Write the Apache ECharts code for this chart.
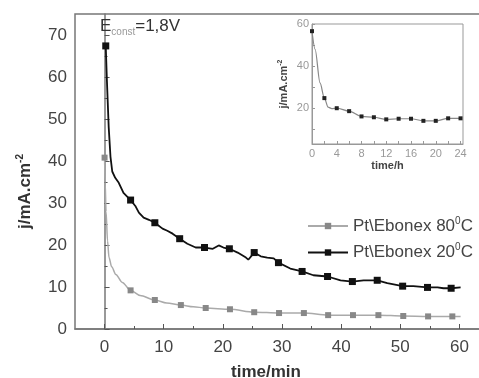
<!DOCTYPE html>
<html>
<head>
<meta charset="utf-8">
<script src="https://cdn.jsdelivr.net/npm/echarts@6/dist/echarts.min.js"></script>
<style>
  html, body { margin: 0; padding: 0; background: #fff; }
  #chart { width: 479px; height: 378px; }
</style>
</head>
<body>
<div id="chart"></div>
<script>
// main plot: current density vs time (min)
const xTicks = [0, 10, 20, 30, 40, 50, 60];
const xMinor = [5, 15, 25, 35, 45, 55];
const yTicks = [0, 10, 20, 30, 40, 50, 60, 70];
const yMinor = [5, 15, 25, 35, 45, 55, 65];

const seriesNames = ['Pt\\Ebonex 80', 'Pt\\Ebonex 20'];

// 80 C (gray) – markers and the line trace between them
const hotMarkers = [[0, 40.8], [4.4, 9.2], [8.5, 6.9], [12.9, 5.7], [17.1, 5.0], [21.2, 4.7],
  [25.3, 4.0], [29.5, 3.8], [33.7, 3.8], [37.8, 3.3], [42, 3.3], [46.3, 3.3],
  [50.5, 3.1], [54.7, 3.0], [58.8, 3.0]];
const hotTrace = [[0.1, 35], [0.25, 28], [0.5, 21], [0.75, 17], [1.2, 14.8], [1.9, 13],
  [3, 11.1], [6, 8], [10.5, 6.2], [15, 5.3], [60.2, 3.0]];

// 20 C (black)
const coldMarkers = [[0.2, 67.4], [4.4, 30.7], [8.5, 25.3], [12.7, 21.5], [16.9, 19.4],
  [21.1, 19.1], [25.3, 18.2], [29.4, 15.8], [33.4, 13.7], [37.7, 12.5], [41.9, 11.3],
  [46.1, 11.6], [50.4, 10.2], [54.6, 9.9], [58.6, 9.7]];
const coldTrace = [[0.4, 59], [0.7, 48], [1.0, 41], [1.3, 37.5], [1.8, 36], [2.4, 34.8],
  [3.2, 32.4], [5.2, 29.3], [5.8, 27.7], [6.6, 26.5], [7.5, 26.0], [9.8, 23.9],
  [10.6, 23.4], [11.5, 22.7], [14.0, 20.3], [15.4, 19.4], [18.3, 19.1], [19.3, 19.9],
  [20.1, 19.4], [22.5, 18.2], [23.9, 17.0], [24.3, 16.5], [26.4, 17.3], [27.5, 17.0],
  [28.6, 16.8], [31.4, 14.4], [35.3, 12.8], [39.9, 11.6], [43.8, 11.6], [47.8, 10.9],
  [52.2, 10.2], [56.3, 9.9], [57.3, 9.7], [60.2, 9.9]];

// inset: current density vs time (h)
const insetXLabels = [0, 4, 8, 12, 16, 20, 24];
const insetXTicks = [0, 2, 4, 6, 8, 10, 12, 14, 16, 18, 20, 22, 24];
const insetYLabels = [20, 40, 60];
const insetYTicks = [10, 20, 30, 40, 50, 60];
const insetMarkers = [[0, 56.6], [2, 24.8], [4, 20], [6, 18.6], [8, 16.1], [10, 15.7],
  [12, 14.7], [14, 15], [16, 15], [18, 14], [20, 14], [22, 15.2], [24, 15.2]];
const insetTrace = [[0.5, 48], [1.3, 32], [2.6, 20.5], [3.2, 19.8]];

function build(markers, trace) {
  const pts = markers.map(p => ({ value: p }))
    .concat(trace.map(p => ({ value: p, symbol: 'none' })));
  pts.sort((a, b) => a.value[0] - b.value[0]);
  return pts;
}

const chart = echarts.init(document.getElementById('chart'));
const axisGray = '#777';
const labelColor = '#444';
const font = 'Liberation Sans, Arial, sans-serif';

const option = {
  animation: false,
  backgroundColor: '#fff',
  textStyle: { fontFamily: font },
  grid: [
    { left: 75, right: -10, top: 14, bottom: 49, outerBoundsMode: 'none', containLabel: false,
      show: true, borderColor: axisGray, borderWidth: 1.5 },
    { left: 312, top: 24, width: 151, height: 120, outerBoundsMode: 'none', containLabel: false,
      show: true, borderColor: '#999', borderWidth: 1, backgroundColor: '#fff' }
  ],
  legend: {
    orient: 'vertical',
    left: 302,
    top: 211,
    itemWidth: 40,
    itemHeight: 8,
    itemGap: 8,
    data: seriesNames,
    textStyle: {
      color: labelColor,
      fontSize: 17,
      fontFamily: font,
      rich: {
        a: { fontSize: 17, color: labelColor, fontFamily: font },
        s: { fontSize: 10, color: labelColor, fontFamily: font, padding: [0, 0, 10, 0] }
      }
    },
    formatter: name => '{a|' + name + '}{s|0}{a|C}'
  },
  xAxis: [
    {
      gridIndex: 0, type: 'value', min: -5, max: 65,
      name: 'time/min', nameLocation: 'middle', nameGap: 35,
      nameTextStyle: { fontSize: 17, fontWeight: 'bold', color: '#333', padding: [0, 32, 0, 0] },
      axisLine: { lineStyle: { color: axisGray, width: 1.5 } },
      axisTick: { inside: true, length: 5, customValues: xTicks, lineStyle: { color: '#555' } },
      axisLabel: { customValues: xTicks, fontSize: 17, color: labelColor, margin: 10 },
      splitLine: { show: false }
    },
    {
      gridIndex: 0, type: 'value', min: -5, max: 65, position: 'bottom',
      axisLine: { show: false },
      axisTick: { inside: true, length: 3, customValues: xMinor, lineStyle: { color: '#555' } },
      axisLabel: { show: false },
      splitLine: { show: false }
    },
    {
      gridIndex: 1, type: 'value', min: 0, max: 24.4,
      name: 'time/h', nameLocation: 'middle', nameGap: 16,
      nameTextStyle: { fontSize: 11, fontWeight: 'bold', color: '#444' },
      axisLine: { lineStyle: { color: '#999' } },
      axisTick: { inside: true, length: 3, customValues: insetXTicks, lineStyle: { color: '#999' } },
      axisLabel: { customValues: insetXLabels, fontSize: 11, color: '#999', margin: 4 },
      splitLine: { show: false }
    }
  ],
  yAxis: [
    {
      gridIndex: 0, type: 'value', min: 0, max: 75,
      name: '{a|j/mA.cm}{s|-2}', nameLocation: 'middle', nameGap: 40,
      nameTextStyle: {
        padding: [0, 40, 0, 0],
        rich: {
          a: { fontSize: 17, fontWeight: 'bold', color: '#333', fontFamily: font },
          s: { fontSize: 10, fontWeight: 'bold', color: '#333', fontFamily: font, padding: [0, 0, 10, 0] }
        }
      },
      axisLine: { lineStyle: { color: axisGray, width: 1.5 } },
      axisTick: { inside: true, length: 5, customValues: yTicks, lineStyle: { color: '#555' } },
      axisLabel: { customValues: yTicks, fontSize: 17, color: labelColor, margin: 8 },
      splitLine: { show: false }
    },
    {
      gridIndex: 0, type: 'value', min: 0, max: 75, position: 'left',
      axisLine: { show: false },
      axisTick: { inside: true, length: 3, customValues: yMinor, lineStyle: { color: '#555' } },
      axisLabel: { show: false },
      splitLine: { show: false }
    },
    {
      gridIndex: 1, type: 'value', min: 3, max: 60,
      name: '{a|j/mA.cm}{s|-2}', nameLocation: 'middle', nameGap: 22,
      nameTextStyle: {
        rich: {
          a: { fontSize: 11, fontWeight: 'bold', color: '#444', fontFamily: font },
          s: { fontSize: 7, fontWeight: 'bold', color: '#444', fontFamily: font, padding: [0, 0, 6, 0] }
        }
      },
      axisLine: { lineStyle: { color: '#999' } },
      axisTick: { inside: true, length: 3, customValues: insetYTicks, lineStyle: { color: '#999' } },
      axisLabel: { customValues: insetYLabels, fontSize: 11, color: '#999', margin: 3 },
      splitLine: { show: false }
    }
  ],
  graphic: [
    {
      type: 'text', left: 100, top: 18, z: 10,
      style: {
        text: '{e|E}{s|const}{e|=1,8V}',
        rich: {
          e: { fontSize: 17, fill: '#333', fontFamily: font },
          s: { fontSize: 10, fill: '#999', fontFamily: font, padding: [12, 0, 0, 0] }
        }
      }
    }
  ],
  series: [
    {
      name: seriesNames[0], type: 'line', xAxisIndex: 0, yAxisIndex: 0,
      data: build(hotMarkers, hotTrace),
      smooth: 0.3, smoothMonotone: 'x',
      symbol: 'rect', symbolSize: 6,
      lineStyle: { color: '#aaa', width: 1.5 },
      itemStyle: { color: '#888' }
    },
    {
      name: seriesNames[1], type: 'line', xAxisIndex: 0, yAxisIndex: 0,
      data: build(coldMarkers, coldTrace),
      symbol: 'rect', symbolSize: 7,
      lineStyle: { color: '#111', width: 1.8 },
      itemStyle: { color: '#111' }
    },
    {
      name: 'inset', type: 'line', xAxisIndex: 2, yAxisIndex: 2,
      data: build(insetMarkers, insetTrace),
      smooth: 0.3, smoothMonotone: 'x',
      symbol: 'rect', symbolSize: 4,
      lineStyle: { color: '#888', width: 1.2 },
      itemStyle: { color: '#222' }
    }
  ]
};

chart.setOption(option);
</script>
</body>
</html>
